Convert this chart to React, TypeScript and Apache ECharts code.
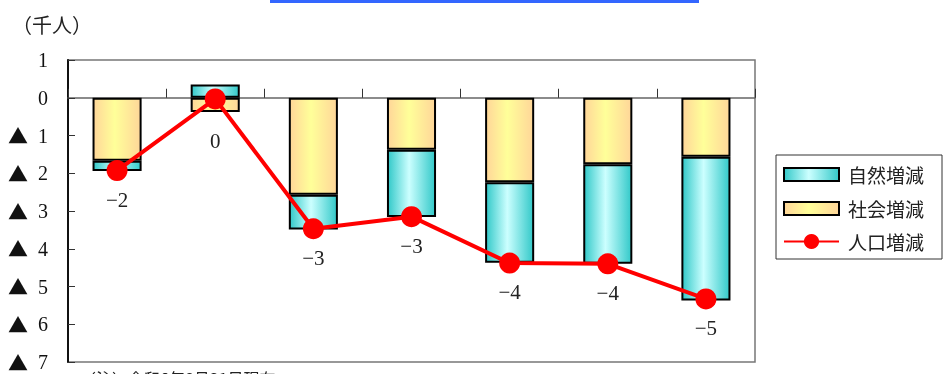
import React, { useEffect, useRef } from "react";
import * as echarts from "echarts";

const categories = ["1", "2", "3", "4", "5", "6", "7"];
const naturalChange = [-0.27, 0.35, -0.92, -1.78, -2.13, -2.64, -3.81];
const socialChange = [-1.67, -0.38, -2.57, -1.38, -2.24, -1.76, -1.56];
const populationChange = [-1.93, -0.03, -3.47, -3.15, -4.38, -4.4, -5.33];
const yTicks = [1, 0, -1, -2, -3, -4, -5, -6, -7];
const seriesNames = ["自然増減", "社会増減", "人口増減"];

const SERIF = "'Liberation Serif', 'DejaVu Serif', serif";
const CJK = "'Noto Sans CJK JP', sans-serif";

function fmtInt(v: number): string {
  const r = Math.round(v);
  if (r === 0) return "0";
  return r < 0 ? "\u2212" + Math.abs(r) : String(r);
}

export default function App() {
  const ref = useRef<HTMLDivElement>(null);
  useEffect(() => {
    if (!ref.current) return;
    const chart = echarts.init(ref.current, null, { renderer: "svg" });
    const teal = new echarts.graphic.LinearGradient(0, 0, 1, 0, [
      { offset: 0, color: "#33c9c9" },
      { offset: 0.45, color: "#ccffff" },
      { offset: 1, color: "#33c9c9" },
    ]);
    const peach = new echarts.graphic.LinearGradient(0, 0, 1, 0, [
      { offset: 0, color: "#ffd699" },
      { offset: 0.45, color: "#ffff99" },
      { offset: 1, color: "#ffd699" },
    ]);
    const swatch = "path://M0,0M0,19M0,3L55,3L55,16L0,16Z";
    chart.setOption({
      animation: false,
      graphic: [
        {
          type: "rect",
          shape: { x: 270, y: 0, width: 429, height: 3 },
          style: { fill: "#3366ff" },
          silent: true,
        },
        {
          type: "text",
          x: 12,
          y: 14,
          style: { text: "（千人）", font: `20px ${CJK}`, fill: "#222" },
        },
        {
          type: "text",
          x: 80,
          y: 370,
          style: { text: "（注）令和6年8月31日現在", font: `16px ${CJK}`, fill: "#222" },
        },
      ],
      grid: {
        left: 68,
        right: 191,
        top: 60,
        bottom: 12,
        show: true,
        borderColor: "#777",
        borderWidth: 1.5,
        backgroundColor: "transparent",
      },
      legend: {
        orient: "vertical",
        left: 776,
        top: 155,
        data: [
          { name: seriesNames[0], icon: swatch },
          { name: seriesNames[1], icon: swatch },
          { name: seriesNames[2] },
        ],
        itemWidth: 55,
        itemHeight: 19,
        itemGap: 13,
        padding: [9, 18, 8, 7],
        borderColor: "#333",
        borderWidth: 1,
        textStyle: {
          fontFamily: CJK,
          fontSize: 19,
          color: "#222",
          padding: [0, 0, 0, 4],
        },
      },
      xAxis: {
        type: "category",
        data: categories,
        axisLine: { onZero: true, lineStyle: { color: "#666", width: 1.5 } },
        axisTick: { show: true, inside: true, length: 9, lineStyle: { color: "#333", width: 1 } },
        axisLabel: { show: false },
        splitLine: { show: false },
      },
      yAxis: {
        type: "value",
        min: -7,
        max: 1,
        interval: 1,
        axisLine: { show: true, lineStyle: { color: "#111", width: 2 } },
        axisTick: { show: true, inside: true, length: 7, lineStyle: { color: "#333" } },
        splitLine: { show: false },
        axisLabel: {
          margin: 20,
          fontFamily: SERIF,
          fontSize: 20,
          color: "#111",
          rich: {
            t: { fontFamily: CJK, fontSize: 20, color: "#111" },
            n: { fontFamily: SERIF, fontSize: 20, color: "#111" },
          },
          formatter: (v: number) => {
            if (!yTicks.includes(v)) return "";
            if (v < 0) return "{t|▲}{n|  " + Math.abs(v) + "}";
            return "{n|" + v + "}";
          },
        },
      },
      series: [
        {
          name: seriesNames[1],
          type: "bar",
          stack: "total",
          barWidth: "50%",
          data: socialChange,
          itemStyle: { color: peach, borderColor: "#000", borderWidth: 2 },
        },
        {
          name: seriesNames[0],
          type: "bar",
          stack: "total",
          barWidth: "50%",
          data: naturalChange,
          itemStyle: { color: teal, borderColor: "#000", borderWidth: 2 },
        },
        {
          name: seriesNames[2],
          type: "line",
          data: populationChange.map((v, i) => ({
            value: v,
            label: i === 1 ? { distance: 21 } : undefined,
          })),
          symbol: "circle",
          symbolSize: 21,
          lineStyle: { color: "#ff0000", width: 4 },
          itemStyle: { color: "#ff0000" },
          z: 5,
          label: {
            show: true,
            position: "bottom",
            distance: 8,
            fontFamily: SERIF,
            fontSize: 21,
            color: "#222",
            formatter: (p: any) => fmtInt(p.value),
          },
        },
      ],
    });
    return () => chart.dispose();
  }, []);
  return <div ref={ref} style={{ width: 946, height: 374, position: "fixed", left: 0, top: 0 }} />;
}
